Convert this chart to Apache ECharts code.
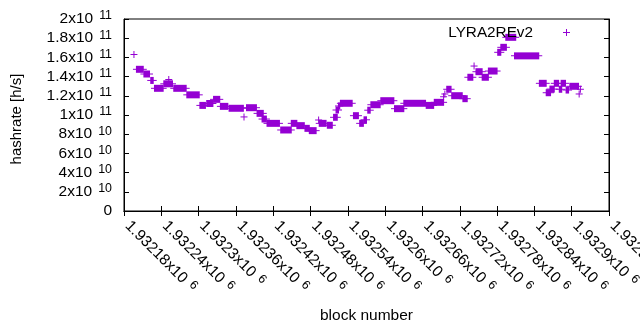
<!DOCTYPE html>
<html>
<head>
<meta charset="utf-8">
<script src="https://cdn.jsdelivr.net/npm/echarts@6/dist/echarts.min.js"></script>
<style>
  html, body { margin: 0; padding: 0; background: #fff; }
  #chart { width: 640px; height: 330px; }
</style>
</head>
<body>
<div id="chart"></div>
<script>
// runs of consecutive blocks reporting the same hashrate
var blockStart = [
  1932196, 1932200, 1932212, 1932223, 1932229, 1932244, 1932252, 1932260, 1932281, 1932302,
  1932313, 1932324, 1932335, 1932349, 1932373, 1932377, 1932394, 1932402, 1932410, 1932432,
  1932449, 1932458, 1932471, 1932478, 1932493, 1932494, 1932507, 1932517, 1932521, 1932525,
  1932528, 1932549, 1932559, 1932566, 1932572, 1932577, 1932593, 1932615, 1932630, 1932666,
  1932679, 1932694, 1932696, 1932699, 1932707, 1932725, 1932733, 1932743, 1932746, 1932756,
  1932766, 1932781, 1932786, 1932794, 1932808, 1932848, 1932859, 1932865, 1932872, 1932880,
  1932883, 1932891, 1932897, 1932912, 1932914
];
var blockEnd = [
  1932196, 1932211, 1932221, 1932227, 1932243, 1932258, 1932252, 1932280, 1932301, 1932311,
  1932323, 1932334, 1932347, 1932372, 1932373, 1932393, 1932404, 1932409, 1932430, 1932449,
  1932458, 1932470, 1932478, 1932489, 1932493, 1932505, 1932515, 1932523, 1932525, 1932527,
  1932547, 1932557, 1932565, 1932570, 1932576, 1932592, 1932614, 1932630, 1932665, 1932678,
  1932694, 1932694, 1932696, 1932706, 1932724, 1932732, 1932741, 1932743, 1932756, 1932766,
  1932780, 1932786, 1932795, 1932810, 1932847, 1932859, 1932866, 1932872, 1932879, 1932884,
  1932890, 1932895, 1932911, 1932912, 1932914
];
var hashrate = [
  163e9, 147.6e9, 142.7e9, 136e9, 127.8e9, 132.5e9, 137e9, 127.8e9, 121e9, 110e9,
  112e9, 116.3e9, 109e9, 107e9, 98e9, 107.6e9, 101.7e9, 95.8e9, 91.3e9, 84.4e9,
  91.3e9, 88.9e9, 86.1e9, 83.7e9, 94.8e9, 91.3e9, 89.3e9, 97.6e9, 105.2e9, 109.4e9,
  112.2e9, 99.3e9, 91.3e9, 95e9, 105e9, 110.7e9, 114.9e9, 106.6e9, 112.2e9, 110e9,
  113.2e9, 119e9, 121.9e9, 126.8e9, 120.1e9, 117e9, 139.3e9, 151e9, 145.1e9, 139.3e9,
  145.8e9, 165.3e9, 170.5e9, 180.9e9, 161.6e9, 133e9, 123.2e9, 127e9, 133e9, 126.8e9,
  133e9, 126e9, 129.9e9, 121.9e9, 126.8e9
];

var purple = '#9400d3';
var font = 'Liberation Sans, Arial, sans-serif';

function sciLabel(v) {
  if (v === 0) return '{m|0}';
  var e = Math.floor(Math.log10(v) + 1e-9);
  var m = parseFloat((v / Math.pow(10, e)).toFixed(5));
  return '{m|' + m + 'x10}{s|' + e + '}';
}

var richY = {
  m: { fontFamily: font, fontSize: 15.5, color: '#000', verticalAlign: 'bottom', lineHeight: 16 },
  s: { fontFamily: font, fontSize: 12.4, color: '#000', verticalAlign: 'bottom', lineHeight: 12,
       padding: [0, 0, 5, 6] }
};
var richX = {
  m: { fontFamily: font, fontSize: 15.5, color: '#000', verticalAlign: 'bottom', lineHeight: 16,
       padding: [0, 0, 0, 5] },
  s: richY.s
};

var runs = blockStart.map(function(b, i) {
  return [b, blockEnd[i], hashrate[i]];
});

var chart = echarts.init(document.getElementById('chart'), null, { renderer: 'canvas' });

var xBase = {
  type: 'value',
  min: 1932180,
  max: 1932960,
  interval: 60,
  splitLine: { show: false },
  axisLine: { lineStyle: { color: '#000', width: 1 } },
  axisTick: { inside: true, length: 5, lineStyle: { color: '#000' } }
};
var yBase = {
  type: 'value',
  min: 0,
  max: 2e11,
  interval: 2e10,
  splitLine: { show: false },
  axisLine: { lineStyle: { color: '#000', width: 1 } },
  axisTick: { inside: true, length: 5, lineStyle: { color: '#000' } }
};

chart.setOption({
  backgroundColor: '#fff',
  animation: false,
  grid: {
    left: 124, right: 31, top: 19, bottom: 119,
    outerBoundsMode: 'none',
    containLabel: false,
    show: true, borderColor: '#000', borderWidth: 1, backgroundColor: 'transparent'
  },
  legend: {
    right: 70,
    top: 25,
    padding: 0,
    align: 'right',
    itemWidth: 7,
    itemHeight: 7,
    textStyle: { fontFamily: font, fontSize: 15.3, color: '#000', padding: [0, 25, 0, 0] },
    data: [{ name: 'LYRA2REv2', icon: 'path://M0,3H7V4H0Z M3,0H4V7H3Z' }]
  },
  xAxis: [
    Object.assign({}, xBase, {
      position: 'bottom',
      name: 'block number',
      nameLocation: 'middle',
      nameGap: 97,
      nameTextStyle: { fontFamily: font, fontSize: 15.5, color: '#000' },
      axisLabel: {
        rotate: -45,
        margin: 9,
        interval: 0,
        showMinLabel: true,
        showMaxLabel: true,
        hideOverlap: false,
        formatter: sciLabel,
        rich: richX
      }
    }),
    Object.assign({}, xBase, { position: 'top', axisLabel: { show: false } })
  ],
  yAxis: [
    Object.assign({}, yBase, {
      position: 'left',
      name: 'hashrate [h/s]',
      nameLocation: 'middle',
      nameGap: 100,
      nameTextStyle: { fontFamily: font, fontSize: 15, color: '#000', padding: [0, 8, 0, 0] },
      axisLabel: { margin: 12, formatter: sciLabel, rich: richY }
    }),
    Object.assign({}, yBase, { position: 'right', axisLabel: { show: false } })
  ],
  series: [{
    name: 'LYRA2REv2',
    type: 'custom',
    xAxisIndex: 0,
    yAxisIndex: 0,
    itemStyle: { color: purple },
    encode: { x: [0, 1], y: 2 },
    renderItem: function(params, api) {
      var a = api.coord([api.value(0), api.value(2)]);
      var b = api.coord([api.value(1), api.value(2)]);
      var w = b[0] - a[0];
      return {
        type: 'group',
        children: [
          { type: 'rect', shape: { x: a[0] - 0.5, y: a[1] - 3.5, width: w + 1, height: 7 },
            style: { fill: purple } },
          { type: 'rect', shape: { x: a[0] - 3.5, y: a[1] - 0.5, width: w + 7, height: 1 },
            style: { fill: purple } }
        ]
      };
    },
    data: runs
  }]
});
</script>
</body>
</html>
